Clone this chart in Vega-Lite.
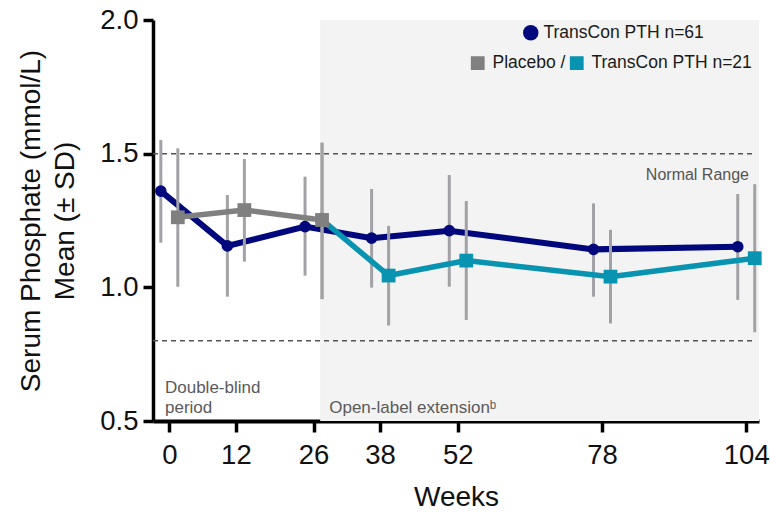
{
  "$schema": "https://vega.github.io/schema/vega-lite/v6.json",
  "autosize": "none",
  "width": 606,
  "height": 401,
  "padding": {"left": 153, "top": 20, "right": 11, "bottom": 91},
  "background": "white",
  "config": {
    "font": "Liberation Sans",
    "view": {"stroke": null},
    "legend": {"padding": 0, "labelLimit": 400}
  },
  "datasets": {
    "main": [
      {"week": 0, "mean": 1.36, "lo": 1.167, "hi": 1.551, "series": "TransCon PTH n=61"},
      {"week": 12, "mean": 1.155, "lo": 0.965, "hi": 1.345, "series": "TransCon PTH n=61"},
      {"week": 26, "mean": 1.227, "lo": 1.044, "hi": 1.414, "series": "TransCon PTH n=61"},
      {"week": 38, "mean": 1.184, "lo": 0.999, "hi": 1.368, "series": "TransCon PTH n=61"},
      {"week": 52, "mean": 1.212, "lo": 1.002, "hi": 1.42, "series": "TransCon PTH n=61"},
      {"week": 78, "mean": 1.142, "lo": 0.965, "hi": 1.314, "series": "TransCon PTH n=61"},
      {"week": 104, "mean": 1.152, "lo": 0.953, "hi": 1.349, "series": "TransCon PTH n=61"}
    ],
    "switch": [
      {"week": 0, "mean": 1.262, "lo": 1.002, "hi": 1.52, "series": "Placebo /"},
      {"week": 12, "mean": 1.289, "lo": 1.096, "hi": 1.48, "series": "Placebo /"},
      {"week": 26, "mean": 1.252, "lo": 0.956, "hi": 1.541, "series": "Placebo /"},
      {"week": 26, "mean": 1.252, "lo": 0.956, "hi": 1.541, "series": "TransCon PTH n=21"},
      {"week": 38, "mean": 1.044, "lo": 0.857, "hi": 1.23, "series": "TransCon PTH n=21"},
      {"week": 52, "mean": 1.1, "lo": 0.878, "hi": 1.323, "series": "TransCon PTH n=21"},
      {"week": 78, "mean": 1.04, "lo": 0.865, "hi": 1.215, "series": "TransCon PTH n=21"},
      {"week": 104, "mean": 1.109, "lo": 0.832, "hi": 1.386, "series": "TransCon PTH n=21"}
    ],
    "period": [
      {"start": 27.2, "end": 106.3, "label": "Open-label extensionᵇ"}
    ],
    "normal": [
      {"limit": 1.5},
      {"limit": 0.8}
    ]
  },
  "encoding": {
    "x": {
      "type": "quantitative",
      "scale": {"domain": [-2.94, 106.3], "nice": false, "zero": false},
      "axis": {
        "title": "Weeks",
        "values": [0, 12, 26, 38, 52, 78, 104],
        "grid": false,
        "domainColor": "#000",
        "domainWidth": 4,
        "tickColor": "#000",
        "tickWidth": 3.5,
        "tickSize": 11,
        "labelFontSize": 27.5,
        "labelColor": "#111",
        "labelPadding": 9,
        "titleFontSize": 28,
        "titleFontWeight": "normal",
        "titleColor": "#111",
        "titlePadding": 15
      }
    },
    "y": {
      "type": "quantitative",
      "scale": {"domain": [0.5, 2.0], "nice": false, "zero": false},
      "axis": {
        "title": ["Serum Phosphate (mmol/L)", "Mean (± SD)"],
        "values": [0.5, 1.0, 1.5, 2.0],
        "format": ".1f",
        "grid": false,
        "domainColor": "#000",
        "domainWidth": 3.5,
        "tickColor": "#000",
        "tickWidth": 3.5,
        "tickSize": 10,
        "labelFontSize": 27.5,
        "labelColor": "#111",
        "labelPadding": 5,
        "titleFontSize": 28,
        "titleFontWeight": "normal",
        "titleColor": "#111",
        "titleLineHeight": 34,
        "titlePadding": 20
      }
    }
  },
  "layer": [
    {
      "data": {"name": "period"},
      "mark": {"type": "rect", "color": "#f3f3f3"},
      "encoding": {
        "x": {"field": "start"},
        "x2": {"field": "end"},
        "y": {"datum": 2.0},
        "y2": {"datum": 0.5}
      }
    },
    {
      "data": {"name": "normal"},
      "mark": {"type": "rule", "color": "#555", "strokeWidth": 1.5, "strokeDash": [5, 4]},
      "encoding": {
        "y": {"field": "limit"},
        "x": {"datum": -2.94},
        "x2": {"datum": 105.2}
      }
    },
    {
      "data": {"values": [{"t": "Normal Range"}]},
      "mark": {"type": "text", "align": "right", "baseline": "alphabetic", "fontSize": 16, "color": "#555"},
      "encoding": {
        "text": {"field": "t"},
        "x": {"datum": 104.5},
        "y": {"datum": 1.401}
      }
    },
    {
      "data": {"values": [{"t": ["Double-blind", "period"]}]},
      "mark": {"type": "text", "align": "left", "baseline": "alphabetic", "fontSize": 17, "lineHeight": 20, "color": "#5a5a5a"},
      "encoding": {
        "text": {"field": "t"},
        "x": {"datum": -0.78},
        "y": {"datum": 0.604}
      }
    },
    {
      "data": {"name": "period"},
      "mark": {"type": "text", "align": "left", "baseline": "alphabetic", "fontSize": 17, "color": "#5a5a5a", "dx": 9},
      "encoding": {
        "text": {"field": "label"},
        "x": {"field": "start"},
        "y": {"datum": 0.53}
      }
    },
    {
      "data": {"name": "main"},
      "layer": [
        {
          "mark": {"type": "rule", "color": "#a2a2a6", "strokeWidth": 3, "xOffset": -8.5},
          "encoding": {
            "x": {"field": "week"},
            "y": {"field": "lo"},
            "y2": {"field": "hi"}
          }
        },
        {
          "mark": {"type": "line", "strokeWidth": 6, "xOffset": -8.5},
          "encoding": {
            "x": {"field": "week"},
            "y": {"field": "mean"},
            "color": {"field": "series", "type": "nominal", "scale": {"domain": ["TransCon PTH n=61"], "range": ["#00087c"]}}
          }
        },
        {
          "mark": {"type": "point", "shape": "circle", "filled": true, "opacity": 1, "size": 135, "xOffset": -8.5},
          "encoding": {
            "x": {"field": "week"},
            "y": {"field": "mean"},
            "color": {
              "field": "series", "type": "nominal",
              "scale": {"domain": ["TransCon PTH n=61"], "range": ["#0b1f6e"]},
              "legend": {
                "title": null, "orient": "none", "legendX": 369, "legendY": 4,
                "symbolType": "circle", "symbolSize": 240, "symbolFillColor": "#1c1a5a", "symbolStrokeWidth": 0, "symbolOpacity": 1,
                "labelFontSize": 17.5, "labelColor": "#1a1a1a", "labelOffset": 4, "labelLimit": 400
              }
            }
          }
        }
      ]
    },
    {
      "data": {"name": "switch"},
      "layer": [
        {
          "mark": {"type": "rule", "color": "#a2a2a6", "strokeWidth": 3, "xOffset": 8.5},
          "encoding": {
            "x": {"field": "week"},
            "y": {"field": "lo"},
            "y2": {"field": "hi"}
          }
        },
        {
          "mark": {"type": "line", "strokeWidth": 5.5, "xOffset": 8.5},
          "encoding": {
            "x": {"field": "week"},
            "y": {"field": "mean"},
            "color": {"field": "series", "type": "nominal", "scale": {"domain": ["Placebo /", "TransCon PTH n=21"], "range": ["#808080", "#0893b0"]}}
          }
        },
        {
          "transform": [{"filter": "!(datum.series == 'TransCon PTH n=21' && datum.week == 26)"}],
          "mark": {"type": "point", "shape": "square", "filled": true, "opacity": 1, "size": 190, "xOffset": 8.5},
          "encoding": {
            "x": {"field": "week"},
            "y": {"field": "mean"},
            "color": {
              "field": "series", "type": "nominal",
              "scale": {"domain": ["Placebo /", "TransCon PTH n=21"], "range": ["#808080", "#1097b5"]},
              "legend": {
                "title": null, "orient": "none", "legendX": 316, "legendY": 34, "direction": "horizontal",
                "symbolType": "square", "symbolSize": 190, "symbolStrokeWidth": 0, "symbolOpacity": 1,
                "labelFontSize": 17.5, "labelColor": "#1a1a1a", "labelOffset": 6, "columnPadding": 2, "labelLimit": 400
              }
            }
          }
        }
      ]
    }
  ],
  "resolve": {"scale": {"color": "independent"}, "legend": {"color": "independent"}}
}
